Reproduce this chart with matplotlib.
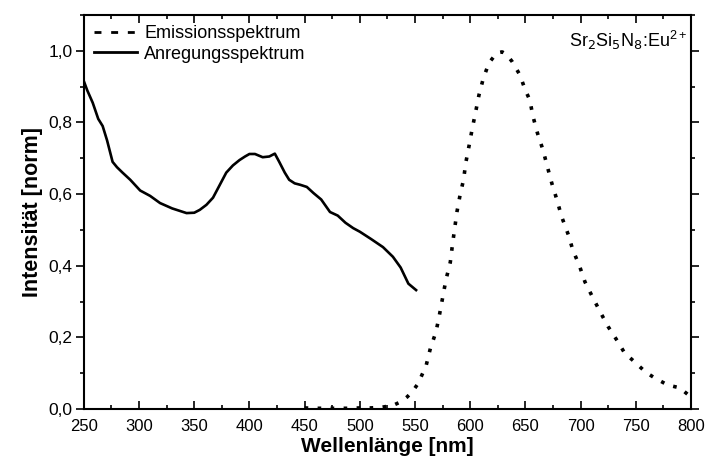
import matplotlib
matplotlib.use('Agg')
import matplotlib.pyplot as plt
from matplotlib.lines import Line2D
from matplotlib.ticker import MultipleLocator, FuncFormatter

plt.rcParams['font.family'] = ['Liberation Sans', 'DejaVu Sans']

# Anregungsspektrum (excitation)
exc_nm = [250, 253, 258, 263, 267, 271, 276, 280, 285, 292, 301, 310, 319, 330, 343, 350,
          355, 361, 367, 373, 379, 385, 391, 396, 400, 405, 412, 418, 423, 427, 432, 436,
          441, 446, 452, 458, 465, 473, 480, 487, 494, 500, 510, 521, 530, 537, 544, 551]
exc_val = [0.915, 0.89, 0.855, 0.81, 0.79, 0.75, 0.69, 0.675, 0.66, 0.64, 0.61, 0.595, 0.575, 0.56, 0.547, 0.548,
           0.556, 0.57, 0.59, 0.625, 0.66, 0.68, 0.695, 0.705, 0.712, 0.712, 0.703, 0.705, 0.713, 0.69, 0.66, 0.64,
           0.63, 0.626, 0.62, 0.603, 0.585, 0.55, 0.54, 0.52, 0.505, 0.495, 0.475, 0.452, 0.425, 0.395, 0.35, 0.332]

# Emissionsspektrum (emission)
em_nm = [450, 460, 470, 480, 490, 500, 510, 520, 530, 537, 543, 548, 553, 557, 560, 564, 569, 572,
         575, 578, 582, 584, 586, 588, 591, 594, 596, 599, 602, 605, 608, 612, 617, 624, 629, 633, 638,
         645, 650, 654, 657, 661, 666, 670, 674, 678, 683, 689, 693, 699, 704, 710, 718, 725, 734,
         740, 747, 759, 767, 779, 790, 799]
em_val = [0.003, 0.002, 0.002, 0.002, 0.002, 0.003, 0.003, 0.005, 0.01, 0.02, 0.034, 0.05, 0.072, 0.1, 0.12, 0.17, 0.215, 0.26,
          0.31, 0.36, 0.41, 0.46, 0.505, 0.55, 0.60, 0.64, 0.687, 0.735, 0.785, 0.83, 0.877, 0.924, 0.966, 0.994, 0.997, 0.99, 0.97,
          0.933, 0.89, 0.863, 0.816, 0.77, 0.723, 0.676, 0.63, 0.59, 0.536, 0.486, 0.444, 0.40, 0.355, 0.318, 0.27, 0.23, 0.187,
          0.156, 0.137, 0.103, 0.087, 0.067, 0.059, 0.036]

fig = plt.figure(figsize=(7.05, 4.62), dpi=100)
ax = fig.add_axes([0.119, 0.1147, 0.861, 0.8528])

ax.plot(em_nm, em_val, color='black', lw=2.6, dashes=(1.0, 2.6), dash_capstyle='butt')
ax.plot(exc_nm, exc_val, color='black', lw=1.9)

ax.set_xlim(250, 800)
ax.set_ylim(0, 1.1)
ax.xaxis.set_major_locator(MultipleLocator(50))
ax.xaxis.set_minor_locator(MultipleLocator(25))
ax.yaxis.set_major_locator(MultipleLocator(0.2))
ax.yaxis.set_minor_locator(MultipleLocator(0.1))
ax.yaxis.set_major_formatter(FuncFormatter(lambda v, p: f'{v:.1f}'.replace('.', ',')))

ax.tick_params(axis='x', which='both', direction='in', top=True, labelsize=12, width=1.2)
ax.tick_params(axis='x', which='major', length=6, pad=7)
ax.tick_params(axis='x', which='minor', length=3)
ax.tick_params(axis='y', which='both', direction='out', labelsize=12.5, width=1.2)
ax.tick_params(axis='y', which='major', length=6, pad=2)
ax.tick_params(axis='y', which='minor', length=3)
ax.tick_params(axis='y', which='both', right=True)
for s in ax.spines.values():
    s.set_linewidth(1.5)

ax.set_xlabel('Wellenlänge [nm]', fontsize=15, fontweight='bold', labelpad=2)
ax.set_ylabel('Intensität [norm]', fontsize=15.5, fontweight='bold', labelpad=4)

handles = [Line2D([], [], color='black', lw=2, dashes=(2.5, 3.5)),
           Line2D([], [], color='black', lw=2)]
ax.legend(handles, ['Emissionsspektrum', 'Anregungsspektrum'], loc='upper left',
          frameon=False, fontsize=13, handlelength=2.4, handletextpad=0.4,
          borderaxespad=0.15, labelspacing=0.2)

ax.text(0.995, 0.965, r'Sr$_2$Si$_5$N$_8$:Eu$^{\mathregular{2+}}$', transform=ax.transAxes,
        ha='right', va='top', fontsize=13)

fig.savefig('out.png', dpi=100)
